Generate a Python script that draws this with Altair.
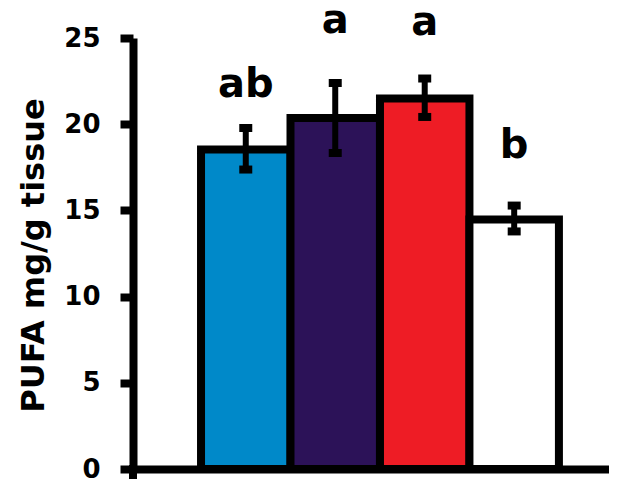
import altair as alt
import pandas as pd

groups = ["G1", "G2", "G3", "G4"]
means = [18.53, 20.36, 21.49, 14.47]
err_lo = [17.37, 18.33, 20.42, 13.78]
err_hi = [19.78, 22.39, 22.65, 15.28]
letters = ["ab", "a", "a", "b"]
letter_y = [21.6, 25.29, 25.17, 18.06]
colors = ["#0089C9", "#2C1258", "#EE1C25", "#FFFFFF"]
y_ticks = [0, 5, 10, 15, 20, 25]

df = pd.DataFrame({
    "group": groups, "mean": means, "lo": err_lo, "hi": err_hi,
    "letter": letters, "ly": letter_y,
})

W, H = 476, 431
FONT = "DejaVu Sans"

xscale = alt.Scale(domain=groups, paddingInner=0, paddingOuter=0.66, align=0.576)
yscale = alt.Scale(domain=[0, 25], nice=False, zero=True)

x_enc = alt.X("group:N", scale=xscale, sort=groups,
              axis=alt.Axis(title=None, labels=False, ticks=False, domain=True,
                            domainColor="black", domainWidth=8))
y_axis = alt.Axis(values=y_ticks, title="PUFA mg/g tissue", grid=False,
                  domainColor="black", domainWidth=8,
                  tickColor="black", tickWidth=8, tickSize=13,
                  labelFont=FONT, labelFontWeight="bold", labelFontSize=26,
                  labelColor="black", labelPadding=20,
                  titleFont=FONT, titleFontWeight="bold", titleFontSize=32,
                  titleColor="black", titleX=-90, titleY=217,
                  titleBaseline="alphabetic", titleAngle=270)

base = alt.Chart(df)

bars = base.mark_bar(stroke="black", strokeWidth=8, strokeJoin="miter").encode(
    x=x_enc,
    y=alt.Y("mean:Q", scale=yscale, axis=y_axis),
    fill=alt.Fill("group:N", scale=alt.Scale(domain=groups, range=colors), legend=None),
)

err = base.mark_rule(color="black", strokeWidth=6).encode(
    x=alt.X("group:N", scale=xscale, sort=groups),
    y=alt.Y("lo:Q", scale=yscale),
    y2="hi:Q",
)
cap_lo = base.mark_tick(color="black", size=13, thickness=8, opacity=1).encode(
    x=alt.X("group:N", scale=xscale, sort=groups),
    y=alt.Y("lo:Q", scale=yscale),
)
cap_hi = base.mark_tick(color="black", size=13, thickness=8, opacity=1).encode(
    x=alt.X("group:N", scale=xscale, sort=groups),
    y=alt.Y("hi:Q", scale=yscale),
)
txt = base.mark_text(font=FONT, fontWeight="bold", fontSize=40, color="black",
                     baseline="alphabetic", align="center").encode(
    x=alt.X("group:N", scale=xscale, sort=groups),
    y=alt.Y("ly:Q", scale=yscale),
    text="letter:N",
)
ext = alt.Chart(pd.DataFrame({"k": [0]})).mark_rule(color="black", strokeWidth=8).encode(
    x=alt.value(0), y=alt.value(H - 4), y2=alt.value(H + 10),
)

chart = alt.layer(bars, err, cap_lo, cap_hi, txt, ext).properties(
    width=W, height=H,
    autosize=alt.AutoSizeParams(type="none"),
    padding={"left": 125, "top": 30, "right": 0, "bottom": 11},
).configure_view(stroke=None)

chart.save("out.html", embed_options={"renderer": "svg", "actions": False})
